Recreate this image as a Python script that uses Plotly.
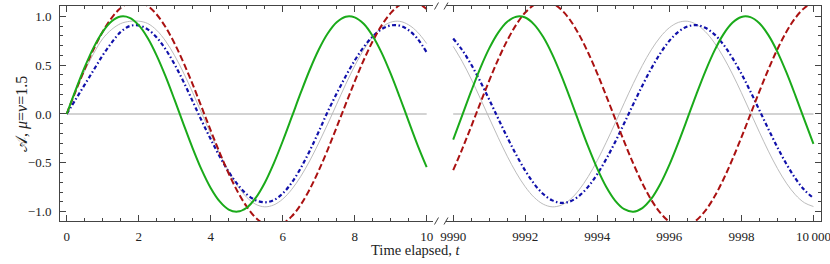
import plotly.graph_objects as go

# ---------------- data ----------------
t_left = [0, 0.25, 0.5, 0.75, 1, 1.25, 1.5, 1.75, 2, 2.25, 2.5, 2.75, 3, 3.25, 3.5, 3.75,
          4, 4.25, 4.5, 4.75, 5, 5.25, 5.5, 5.75, 6, 6.25, 6.5, 6.75, 7, 7.25, 7.5, 7.75,
          8, 8.25, 8.5, 8.75, 9, 9.25, 9.5, 9.75, 10]
t_right = [9990, 9990.25, 9990.5, 9990.75, 9991, 9991.25, 9991.5, 9991.75, 9992, 9992.25,
           9992.5, 9992.75, 9993, 9993.25, 9993.5, 9993.75, 9994, 9994.25, 9994.5, 9994.75,
           9995, 9995.25, 9995.5, 9995.75, 9996, 9996.25, 9996.5, 9996.75, 9997, 9997.25,
           9997.5, 9997.75, 9998, 9998.25, 9998.5, 9998.75, 9999, 9999.25, 9999.5, 9999.75, 10000]

green_left = [0, 0.247, 0.479, 0.682, 0.841, 0.949, 0.997, 0.984, 0.909, 0.778, 0.598, 0.382,
              0.141, -0.108, -0.351, -0.572, -0.757, -0.895, -0.978, -0.999, -0.959, -0.859,
              -0.706, -0.508, -0.279, -0.033, 0.215, 0.450, 0.657, 0.823, 0.938, 0.995,
              0.989, 0.923, 0.798, 0.625, 0.412, 0.174, -0.075, -0.320, -0.544]
red_left = [0, 0.235, 0.459, 0.665, 0.842, 0.984, 1.085, 1.140, 1.147, 1.106, 1.018, 0.887,
            0.719, 0.521, 0.303, 0.068, -0.168, -0.396, -0.609, -0.795, -0.947, -1.061,
            -1.129, -1.150, -1.122, -1.048, -0.929, -0.771, -0.580, -0.366, -0.135, 0.100,
            0.332, 0.550, 0.744, 0.907, 1.032, 1.114, 1.149, 1.135, 1.074]
blue_left = [0, 0.15, 0.30, 0.45, 0.60, 0.73, 0.84, 0.90, 0.906, 0.866, 0.783, 0.660,
             0.506, 0.326, 0.129, -0.069, -0.257, -0.434, -0.592, -0.722, -0.821, -0.882,
             -0.904, -0.882, -0.814, -0.703, -0.555, -0.378, -0.182, 0.023, 0.209, 0.386,
             0.547, 0.684, 0.793, 0.868, 0.906, 0.904, 0.857, 0.768, 0.63]
gray_left = [0, 0.235, 0.44, 0.62, 0.77, 0.865, 0.925, 0.948, 0.95, 0.926, 0.857, 0.745,
             0.596, 0.418, 0.219, 0.008, -0.203, -0.405, -0.586, -0.737, -0.852, -0.924,
             -0.950, -0.931, -0.871, -0.772, -0.640, -0.480, -0.298, -0.104, 0.100, 0.303,
             0.492, 0.657, 0.790, 0.886, 0.939, 0.948, 0.912, 0.836, 0.721]

green_right = [-0.262, -0.015, 0.233, 0.467, 0.671, 0.833, 0.944, 0.996, 0.987, 0.915, 0.787,
               0.610, 0.395, 0.156, -0.094, -0.337, -0.559, -0.747, -0.888, -0.974, -1.000,
               -0.963, -0.867, -0.716, -0.521, -0.293, -0.048, 0.201, 0.437, 0.646, 0.815,
               0.933, 0.993, 0.991, 0.928, 0.807, 0.636, 0.425, 0.188, -0.061, -0.306]
red_right = [-0.575, -0.359, -0.128, 0.109, 0.341, 0.559, 0.752, 0.914, 1.038, 1.117, 1.149,
             1.133, 1.068, 0.959, 0.808, 0.624, 0.413, 0.184, -0.052, -0.286, -0.508,
             -0.709, -0.879, -1.012, -1.102, -1.146, -1.141, -1.088, -0.989, -0.848, -0.670,
             -0.464, -0.240, -0.005, 0.231, 0.456, 0.663, 0.841, 0.984, 1.085, 1.140]
blue_right = [0.773, 0.654, 0.506, 0.334, 0.147, -0.047, -0.238, -0.418, -0.580, -0.716,
              -0.819, -0.884, -0.910, -0.894, -0.837, -0.743, -0.615, -0.460, -0.283, -0.093,
              0.101, 0.290, 0.466, 0.621, 0.748, 0.841, 0.895, 0.909, 0.882, 0.815, 0.711,
              0.574, 0.412, 0.231, 0.039, -0.155, -0.341, -0.512, -0.660, -0.778, -0.860]
gray_right = [0.692, 0.537, 0.358, 0.162, -0.041, -0.242, -0.432, -0.602, -0.745, -0.854,
              -0.923, -0.950, -0.933, -0.874, -0.774, -0.639, -0.475, -0.289, -0.090, 0.114,
              0.312, 0.496, 0.657, 0.788, 0.883, 0.937, 0.949, 0.917, 0.842, 0.729, 0.583,
              0.410, 0.218, 0.016, -0.186, -0.380, -0.557, -0.708, -0.827, -0.908, -0.947]

x_left_ticks = [0, 2, 4, 6, 8, 10]
x_right_ticks = [9990, 9992, 9994, 9996, 9998, 10000]
x_right_labels = ["9990", "9992", "9994", "9996", "9998", "10\u2009000"]
y_ticks = [-1.0, -0.5, 0.0, 0.5, 1.0]
y_labels = ["\u22121.0", "\u22120.5", "0.0", "0.5", "1.0"]

# ---------------- styles ----------------
FONT = "Liberation Serif, Times New Roman, serif"
AX = "#444444"
TXT = "#222222"
GREEN = "#1aaa1a"
RED = "#aa1111"
BLUE = "#1010aa"
GRAY = "#b4b4b4"

fig = go.Figure()

def add_panel(t, g, r, b, gr, xa, ya):
    fig.add_trace(go.Scatter(x=[t[0], t[-1]], y=[0, 0], mode="lines",
                             line=dict(color="#c4c4c4", width=1.6),
                             xaxis=xa, yaxis=ya, showlegend=False, hoverinfo="skip"))
    fig.add_trace(go.Scatter(x=t, y=gr, mode="lines",
                             line=dict(color=GRAY, width=0.9, shape="spline"),
                             xaxis=xa, yaxis=ya, showlegend=False))
    fig.add_trace(go.Scatter(x=t, y=b, mode="lines",
                             line=dict(color=BLUE, width=2.2, shape="spline",
                                       dash="4px,2.5px,1.5px,2.5px"),
                             xaxis=xa, yaxis=ya, showlegend=False))
    fig.add_trace(go.Scatter(x=t, y=r, mode="lines",
                             line=dict(color=RED, width=2.0, shape="spline", dash="6.5px,3px"),
                             xaxis=xa, yaxis=ya, showlegend=False))
    fig.add_trace(go.Scatter(x=t, y=g, mode="lines",
                             line=dict(color=GREEN, width=2.0, shape="spline"),
                             xaxis=xa, yaxis=ya, showlegend=False))

add_panel(t_left, green_left, red_left, blue_left, gray_left, "x", "y")
add_panel(t_right, green_right, red_right, blue_right, gray_right, "x2", "y2")

tickfont = dict(family=FONT, size=13, color=TXT)
common_x = dict(showline=True, linecolor=AX, linewidth=1, mirror="ticks",
                ticks="inside", ticklen=6, tickwidth=1, tickcolor=AX,
                showgrid=False, zeroline=False, tickfont=tickfont,
                automargin=False, ticklabeloverflow="allow", ticklabelstandoff=3,
                minor=dict(dtick=0.5, ticks="inside", ticklen=3, tickcolor=AX, showgrid=False))
common_y = dict(range=[-1.095, 1.105], showline=True, linecolor=AX, linewidth=1,
                ticks="inside", ticklen=6, tickwidth=1, tickcolor=AX,
                showgrid=False, zeroline=False, tickfont=tickfont,
                automargin=False, ticklabeloverflow="allow", ticklabelstandoff=5,
                tickvals=y_ticks, ticktext=y_labels,
                minor=dict(dtick=0.1, ticks="inside", ticklen=3, tickcolor=AX, showgrid=False))

L_END = 0.4901
R_START = 0.5072

fig.update_layout(
    width=830, height=264,
    margin=dict(l=60, r=9, t=6, b=43),
    paper_bgcolor="white", plot_bgcolor="white",
    xaxis=dict(domain=[0, L_END], range=[-0.186, 10.175], anchor="y",
               tickvals=x_left_ticks, **common_x),
    xaxis2=dict(domain=[R_START, 1], range=[9989.80, 10000.21], anchor="y2",
                tickvals=x_right_ticks, ticktext=x_right_labels, **common_x),
    yaxis=dict(anchor="x", side="left", **common_y),
    yaxis2=dict(anchor="x2", side="right", showticklabels=False, **common_y),
    font=dict(family=FONT, color=TXT),
)

# axis titles
fig.add_annotation(text="Time elapsed, <i>t</i>", xref="paper", yref="paper",
                   x=0.4665, y=-0.135, xanchor="center", yanchor="middle",
                   showarrow=False, font=dict(family=FONT, size=14.5, color=TXT))
fig.add_annotation(text="\U0001D49C, <i>\u03bc</i>=<i>\u03bd</i>=1.5", xref="paper", yref="paper",
                   x=-0.05, y=0.4977, xanchor="center", yanchor="middle", textangle=-90,
                   showarrow=False, font=dict(family=FONT, size=16, color=TXT))

# axis-break marks
dx = 2.0 / 761
dy = 3.5 / 215
for xc in [(436.5 - 60) / 761, (446 - 60) / 761]:
    for yc in [0.0, 1.0]:
        fig.add_shape(type="line", xref="paper", yref="paper",
                      x0=xc - dx, y0=yc - dy, x1=xc + dx, y1=yc + dy,
                      line=dict(color=AX, width=1))

fig.write_html("out.html", config={"displayModeBar": False},
               post_script="document.body.style.margin='0';document.body.style.overflow='hidden';")
